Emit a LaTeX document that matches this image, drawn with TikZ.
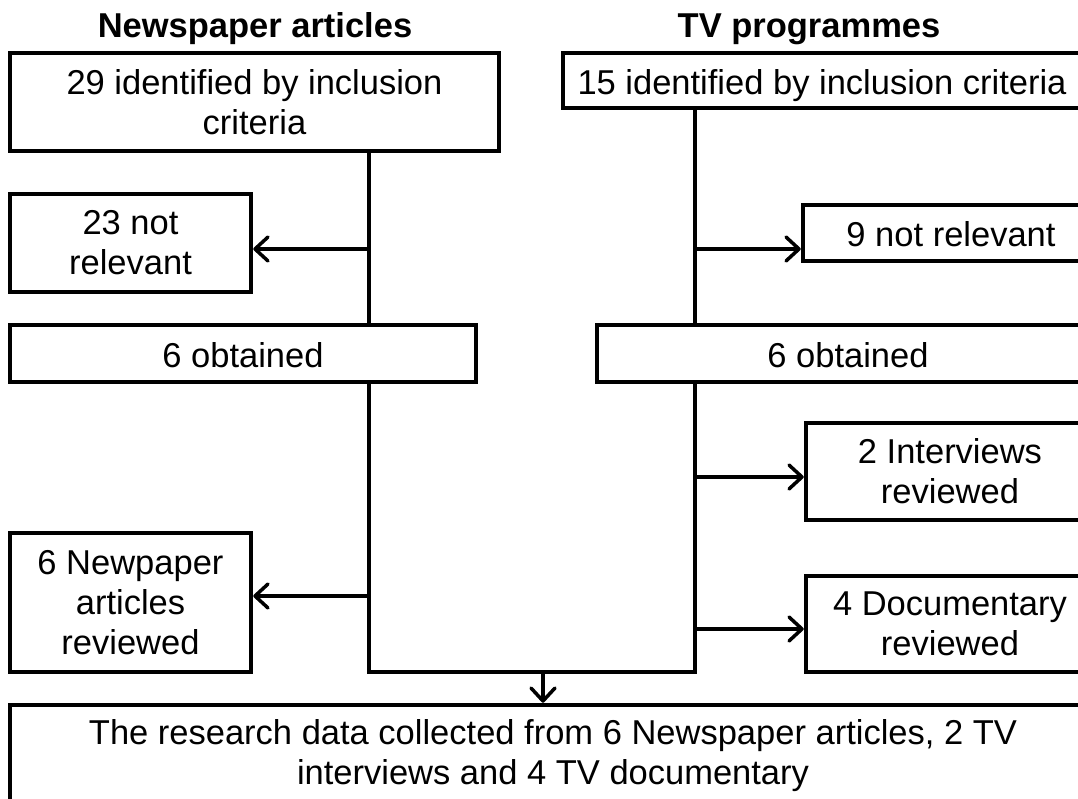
\documentclass[tikz,border=0pt]{standalone}
\usepackage{fontspec}
\setmainfont{Liberation Sans}
\usetikzlibrary{arrows.meta,calc}
\begin{document}
\begin{tikzpicture}[x=1pt,y=-1pt,
  box/.style={draw, line width=4.5pt, align=center, inner sep=0pt, font=\fontsize{34.5}{40}\selectfont},
  one/.style={text height=30pt, text depth=2pt},
  ttl/.style={font=\fontsize{34.5}{40}\selectfont\bfseries, anchor=base, inner sep=0pt},
  conn/.style={line width=4pt, line join=miter},
  arr/.style={line width=3.5pt, -{Straight Barb[length=13pt,width=24pt,line cap=round,line join=round]}},
]
\useasboundingbox (0,0) rectangle (1078,799);
\clip (0,0) rectangle (1078,799);

\node[ttl] (t1) at (255,38) {Newspaper articles};
\node[ttl] (t2) at (809,38) {TV programmes};

\node[box, minimum width=489pt, minimum height=98pt] (b1) at (254.5,102) {29 identified by inclusion\\criteria};
\node[box, one, minimum width=518pt, minimum height=55pt] (tv1) at (822,80.5) {15 identified by inclusion criteria};
\node[box, minimum width=241pt, minimum height=98pt] (n23) at (130.5,243) {23 not\\relevant};
\node[box, one, minimum width=296pt, minimum height=56pt] (n9) at (951,233) {9 not relevant};
\node[box, one, minimum width=466pt, minimum height=57pt] (ob1) at (243,353.5) {6 obtained};
\node[box, one, minimum width=502pt, minimum height=57pt] (ob2) at (848,353.5) {6 obtained};
\node[box, minimum width=288pt, minimum height=97pt] (int) at (950,471.5) {2 Interviews\\reviewed};
\node[box, minimum width=288pt, minimum height=96pt] (doc) at (950,624) {4 Documentary\\reviewed};
\node[box, minimum width=241pt, minimum height=139pt] (np) at (130.5,602.5) {6 Newpaper\\articles\\reviewed};
\node[box, minimum width=1086pt, minimum height=102pt] (fin) at (553,756) {The research data collected from 6 Newspaper articles, 2 TV\\interviews and 4 TV documentary};

\coordinate (jl) at (369,672);
\coordinate (jr) at (695,672);
\coordinate (jm) at (543,672);
\coordinate (a1) at (369,249);
\coordinate (a2) at (695,249);
\coordinate (a3) at (369,596);
\coordinate (a4) at (695,477);
\coordinate (a5) at (695,629);

\draw[conn] (b1.south -| jl) -- (ob1.north -| jl);
\draw[conn] (tv1.south -| jr) -- (ob2.north -| jr);
\draw[conn] (ob1.south -| jl) -- (jl) -- (jr) -- (ob2.south -| jr);

\draw[arr] (a1) -- (a1 -| n23.east);
\draw[arr] (a2) -- (a2 -| n9.west);
\draw[arr] (a3) -- (a3 -| np.east);
\draw[arr] (a4) -- (a4 -| int.west);
\draw[arr] (a5) -- (a5 -| doc.west);
\draw[arr] (jm) -- (jm |- fin.north);
\end{tikzpicture}
\end{document}
